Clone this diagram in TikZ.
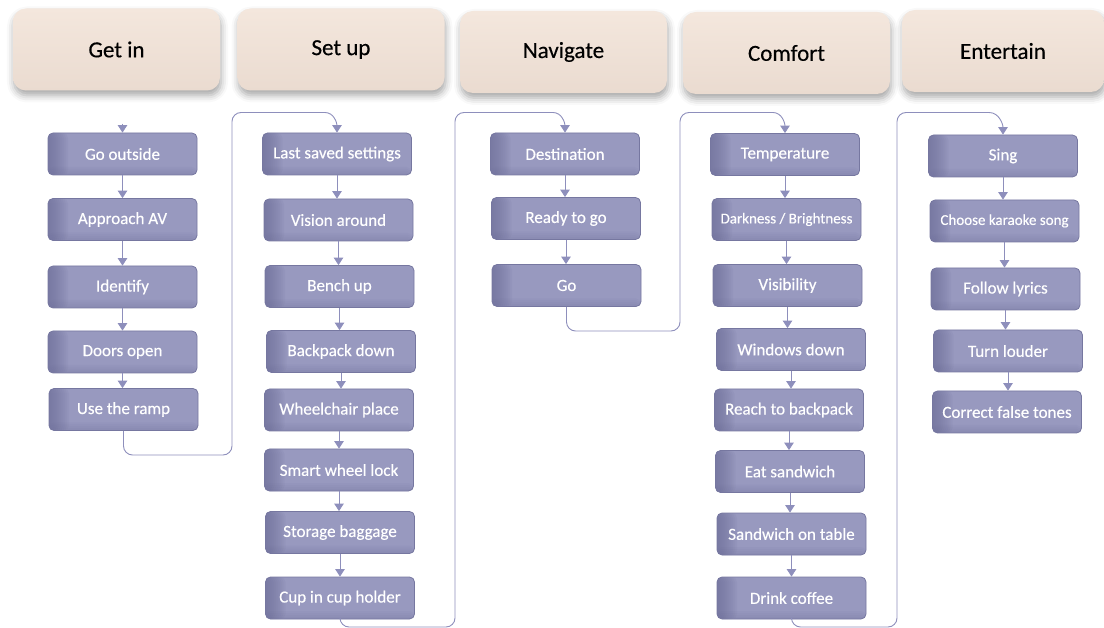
\documentclass[tikz,border=0pt]{standalone}
\usepackage{fontspec}
\setmainfont{Carlito}
\newfontfamily\labelfont{Carlito}[FakeBold=0.35]
\usetikzlibrary{arrows.meta,shadows.blur}
\definecolor{hdrtop}{HTML}{F4E7DD}
\definecolor{hdrbot}{HTML}{EADBD0}
\definecolor{boxfill}{HTML}{9899BF}
\definecolor{boxdark}{HTML}{6A6B96}
\definecolor{boxline}{HTML}{7677A0}
\definecolor{flowline}{HTML}{8E8FBC}
\tikzset{
  hdr/.style={rounded corners=13pt, minimum width=207pt, minimum height=82pt,
    top color=hdrtop, bottom color=hdrbot, draw=none,
    blur shadow={shadow xshift=1pt, shadow yshift=-5pt, shadow blur radius=7pt, shadow opacity=35},
    font=\labelfont\fontsize{23}{26}\selectfont, text=black},
  stepbox/.style={rounded corners=5pt, minimum width=149pt, minimum height=42pt,
    fill=boxfill, draw=boxline, line width=0.8pt, text=white,
    font=\labelfont\fontsize{17}{20}\selectfont, inner sep=2pt,
    path picture={
      % darker band along the left edge, built from stacked translucent strips
      \foreach \w in {2,4,...,20}
        \fill[boxdark, opacity=0.09]
          (path picture bounding box.south west) rectangle ([xshift=\w pt]path picture bounding box.north west);
      % slightly darker lower rim
      \foreach \h in {2,4,6,8}
        \fill[boxdark, opacity=0.07]
          (path picture bounding box.south west) rectangle ([yshift=\h pt]path picture bounding box.south east);
    }},
  smalltext/.style={font=\labelfont\fontsize{15}{18}\selectfont},
  flow/.style={draw=flowline, line width=0.9pt, -{Triangle[length=7.5pt,width=9.5pt]}},
  loopline/.style={draw=flowline, line width=0.9pt, rounded corners=9pt},
}
\begin{document}
\begin{tikzpicture}[x=1pt,y=1pt]
\useasboundingbox (0,0) rectangle (1104,-628);

% phase headers
\node[hdr] (h1) at (116.5,-49.5) {Get in};
\node[hdr] (h2) at (341,-49.5) {Set up};
\node[hdr] (h3) at (563.5,-52) {Navigate};
\node[hdr] (h4) at (786.5,-53) {Comfort};
\node[hdr, minimum width=202pt] (h5) at (1003,-51) {Entertain};

% Get in
\node[stepbox] (g1) at (122.5,-154) {Go outside};
\node[stepbox] (g2) at (122.5,-219.5) {Approach AV};
\node[stepbox] (g3) at (122.5,-287) {Identify};
\node[stepbox] (g4) at (122.5,-352) {Doors open};
\node[stepbox] (g5) at (123.5,-409.5) {Use the ramp};

% Set up
\node[stepbox] (s1) at (337,-154) {Last saved settings};
\node[stepbox] (s2) at (338.5,-220) {Vision around};
\node[stepbox] (s3) at (339.5,-286.5) {Bench up};
\node[stepbox] (s4) at (341,-351.5) {Backpack down};
\node[stepbox] (s5) at (339,-410) {Wheelchair place};
\node[stepbox] (s6) at (339,-470) {Smart wheel lock};
\node[stepbox] (s7) at (340,-532.5) {Storage baggage};
\node[stepbox] (s8) at (340,-598) {Cup in cup holder};

% Navigate
\node[stepbox] (n1) at (565,-154) {Destination};
\node[stepbox] (n2) at (566,-218.5) {Ready to go};
\node[stepbox] (n3) at (566.5,-285.5) {Go};

% Comfort
\node[stepbox] (c1) at (785,-154.5) {Temperature};
\node[stepbox, smalltext] (c2) at (786.5,-219.5) {Darkness / Brightness};
\node[stepbox] (c3) at (787.5,-285.5) {Visibility};
\node[stepbox] (c4) at (791,-349.5) {Windows down};
\node[stepbox] (c5) at (789,-410) {Reach to backpack};
\node[stepbox] (c6) at (790,-471.5) {Eat sandwich};
\node[stepbox] (c7) at (791.5,-534) {Sandwich on table};
\node[stepbox] (c8) at (791.5,-598) {Drink coffee};

% Entertain
\node[stepbox] (e1) at (1003,-156) {Sing};
\node[stepbox, smalltext] (e2) at (1004.5,-221) {Choose karaoke song};
\node[stepbox] (e3) at (1005.5,-289) {Follow lyrics};
\node[stepbox] (e4) at (1008,-351) {Turn louder};
\node[stepbox] (e5) at (1007,-412) {Correct false tones};

% entry marker
\coordinate (g0) at ([yshift=9pt]g1.north);
\draw[flow] (g0) -- (g1.north);

% arrows inside each column
\foreach \a/\b in {g1/g2,g2/g3,g3/g4,g4/g5,
                   s1/s2,s2/s3,s3/s4,s4/s5,s5/s6,s6/s7,s7/s8,
                   n1/n2,n2/n3,
                   c1/c2,c2/c3,c3/c4,c4/c5,c5/c6,c6/c7,c7/c8,
                   e1/e2,e2/e3,e3/e4,e4/e5}
  \draw[flow] (\a.south) -- (\a.south |- \b.north);

% links from the end of one column to the start of the next
\coordinate (k1) at (232,-455);
\coordinate (k2) at (455,-627);
\coordinate (k3) at (680,-331);
\coordinate (k4) at (897,-627);
\coordinate (top) at (0,-112.5);

\draw[loopline] (g5.south) -- (g5.south |- k1) -- (k1) -- (k1 |- top)
  -- ([xshift=-12pt]s1.north |- top);
\draw[flow] ([xshift=-12pt]s1.north |- top) to[out=0,in=90] (s1.north);

\draw[loopline] (s8.south) -- (s8.south |- k2) -- (k2) -- (k2 |- top)
  -- ([xshift=-12pt]n1.north |- top);
\draw[flow] ([xshift=-12pt]n1.north |- top) to[out=0,in=90] (n1.north);

\draw[loopline] (n3.south) -- (n3.south |- k3) -- (k3) -- (k3 |- top)
  -- ([xshift=-12pt]c1.north |- top);
\draw[flow] ([xshift=-12pt]c1.north |- top) to[out=0,in=90] (c1.north);

\draw[loopline] (c8.south) -- (c8.south |- k4) -- (k4) -- (k4 |- top)
  -- ([xshift=-14pt]e1.north |- top);
\draw[flow] ([xshift=-14pt]e1.north |- top) to[out=0,in=90] (e1.north);
\end{tikzpicture}
\end{document}
